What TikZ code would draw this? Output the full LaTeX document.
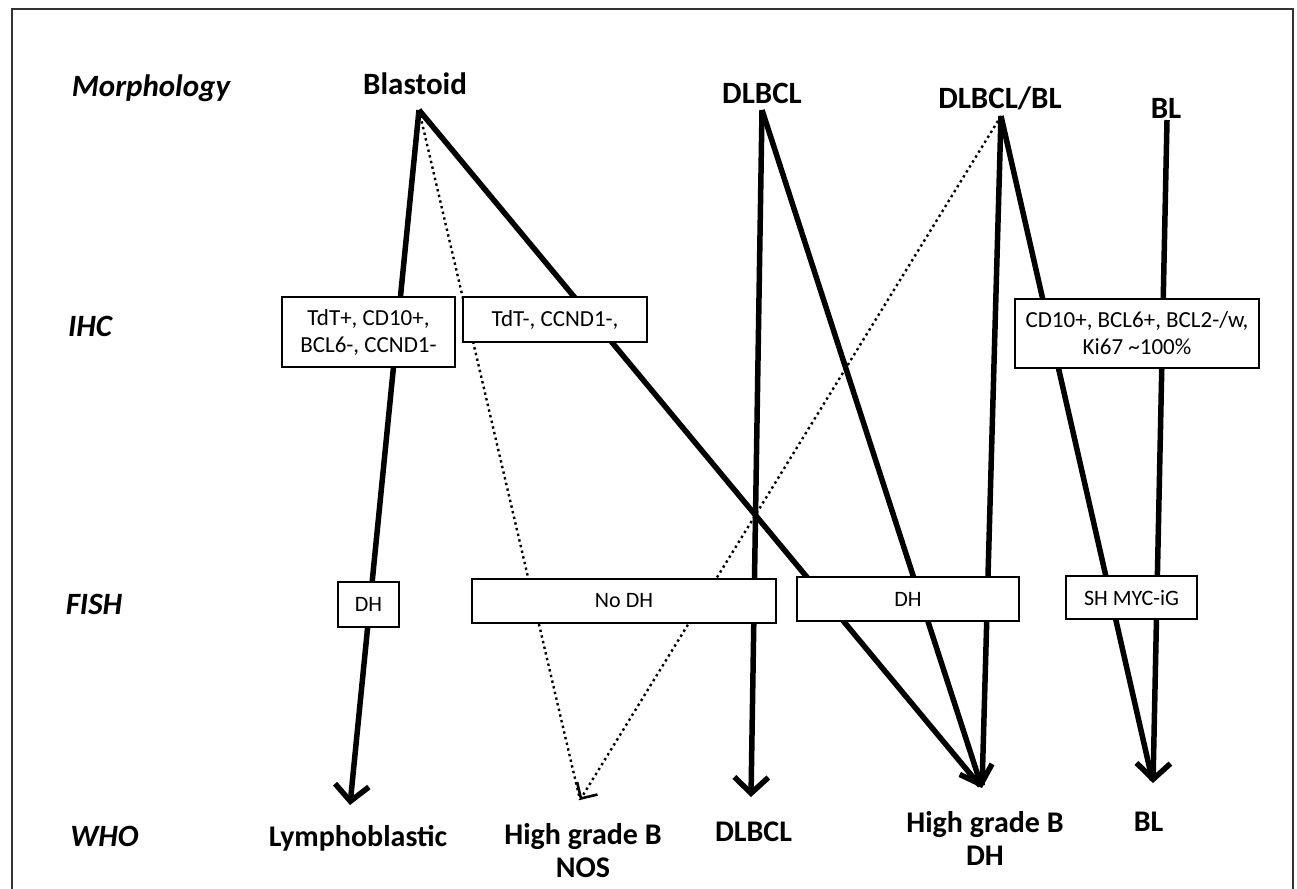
\documentclass[tikz,border=0pt]{standalone}
\usepackage{fontspec}
\setmainfont{Carlito}
\usetikzlibrary{arrows.meta}
\begin{document}
\begin{tikzpicture}[x=1pt,y=-1pt,
  rowlab/.style={font=\fontsize{31}{36}\selectfont\bfseries\itshape, inner sep=0pt, anchor=base},
  toplab/.style={font=\fontsize{31}{36}\selectfont\bfseries, inner sep=0pt, anchor=base},
  botlab/.style={font=\fontsize{30}{33}\selectfont\bfseries, inner sep=0pt, align=center},
  infobox/.style={draw, line width=2.2pt, fill=white, inner sep=0pt, align=center,
     font=\fontsize{23}{27}\selectfont},
  fishbox/.style={draw, line width=2.2pt, fill=white, inner sep=0pt, align=center,
     font=\fontsize{22}{26}\selectfont},
  thickline/.style={line width=5.5pt},
  dotline/.style={line width=2.4pt, dash pattern=on 2.4pt off 3.4pt},
  bigarrow/.style={-{Straight Barb[length=16pt,width=34pt]}},
  smallarrow/.style={-{Straight Barb[length=12pt,width=24pt,line width=2.6pt]}}
]
\useasboundingbox (0,0) rectangle (1297,888);
\clip (0,0) rectangle (1297,888);
\fill[white] (0,0) rectangle (1297,888);
% frame
\draw[line width=2pt, black!80] (12,9) rectangle (1293,900);

% apex and tip coordinates
\coordinate (apA) at (419,110);
\coordinate (apB) at (762,110);
\coordinate (apC) at (1001,116);
\coordinate (apD) at (1167,120);
\coordinate (tipLym) at (350,805);
\coordinate (tipNOS) at (580,800);
\coordinate (tipDL) at (751,797);
\coordinate (tipDH) at (982,788);
\coordinate (tipBL) at (1153,783);

% connectors
\draw[dotline] (apA) -- (tipNOS);
\draw[dotline, smallarrow] (apC) -- (tipNOS);
\draw[thickline, bigarrow] (apA) -- (tipLym);
\draw[thickline, shorten >=3pt] (apA) -- (tipDH);
\draw[thickline, bigarrow] (apB) -- (tipDL);
\draw[thickline, bigarrow] (apB) -- (tipDH);
\draw[thickline, shorten >=3pt] (apC) -- (tipDH);
\draw[thickline, shorten >=3pt] (apC) -- (tipBL);
\draw[thickline, bigarrow] (apD) -- (tipBL);

% row labels
\node[rowlab] (morph) at (151,97) {Morphology};
\node[rowlab] (ihc) at (90,336) {IHC};
\node[rowlab] (fish) at (94,614) {FISH};
\node[rowlab] (who) at (104.5,846) {WHO};

% morphology labels
\node[toplab] (blastoid) at (415,95) {Blastoid};
\node[toplab] (dlbclTop) at (762,104) {DLBCL};
\node[toplab] (dlbclbl) at (1000,109) {DLBCL/BL};
\node[toplab] (blTop) at (1166,119) {BL};

% IHC boxes
\node[infobox, minimum width=173pt, minimum height=70pt] (ihc1) at (368.5,332) {TdT+, CD10+,\\BCL6-, CCND1-};
\node[infobox, minimum width=184pt, minimum height=45pt] (ihc2) at (555,319.5) {TdT-, CCND1-,};
\node[infobox, minimum width=244pt, minimum height=69pt] (ihc3) at (1137,333.5) {CD10+, BCL6+, BCL2-/w,\\Ki67 \textasciitilde100\%};

% FISH boxes
\node[fishbox, minimum width=61pt, minimum height=45pt] (fish1) at (368.5,604.5) {DH};
\node[fishbox, minimum width=304pt, minimum height=44pt] (fish2) at (624,601) {No DH};
\node[fishbox, minimum width=222pt, minimum height=44pt] (fish3) at (908,599) {DH};
\node[fishbox, minimum width=131pt, minimum height=43pt] (fish4) at (1131.5,597.5) {SH MYC-iG};

% WHO labels
\node[botlab, anchor=base] (lym) at (358,846) {Lymphoblastic};
\node[botlab, anchor=north] (nos) at (583,823) {High grade B\\NOS};
\node[botlab, anchor=base] (dlbclBot) at (753.5,841) {DLBCL};
\node[botlab, anchor=north] (hgdh) at (985,811) {High grade B\\DH};
\node[botlab, anchor=base] (blBot) at (1148.5,831) {BL};
\end{tikzpicture}
\end{document}
